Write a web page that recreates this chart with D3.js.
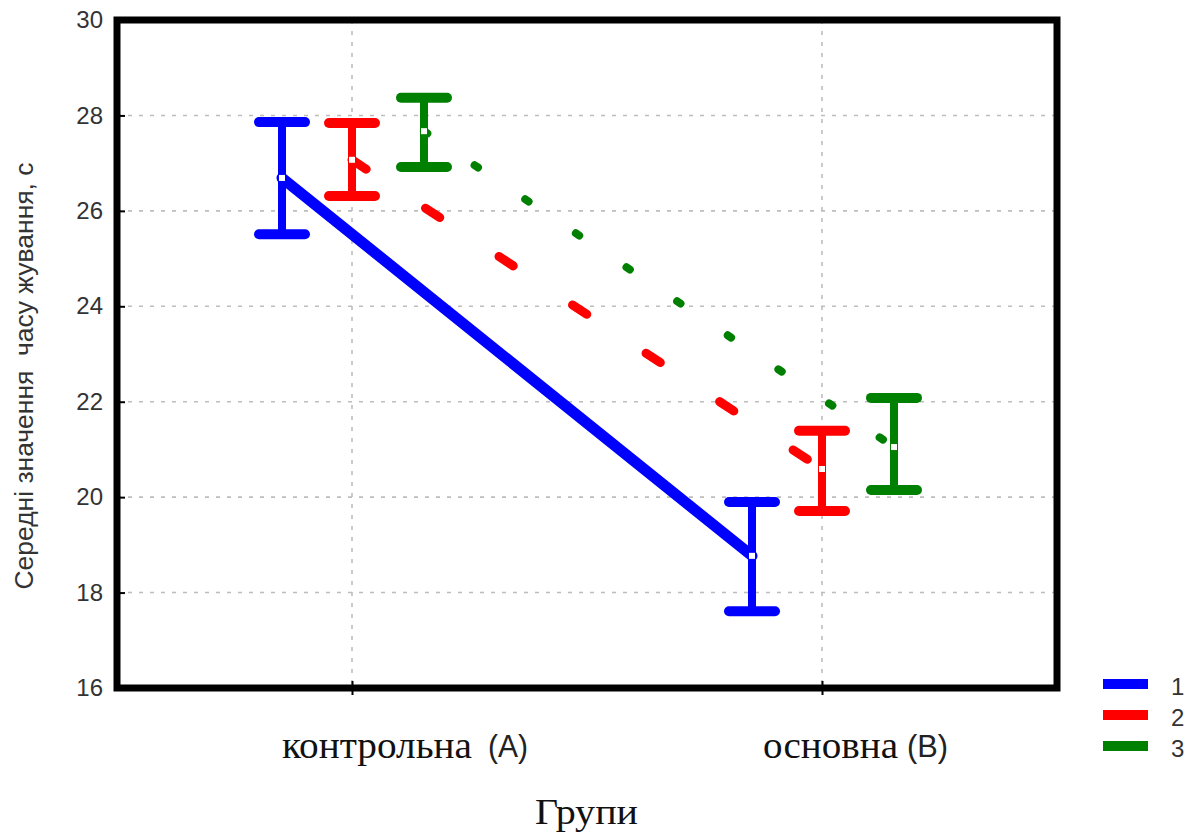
<!DOCTYPE html>
<html>
<head>
<meta charset="utf-8">
<script src="https://cdn.jsdelivr.net/npm/d3@7"></script>
<style>
  html, body { margin: 0; padding: 0; background: #fff; }
  svg { display: block; }
</style>
</head>
<body>
<svg id="chart" width="1193" height="832"></svg>
<script>
// Groups on the x axis
const groups = ["A", "B"];
const groupWords = ["контрольна", "основна"];
// Series names (legend)
const seriesNames = ["1", "2", "3"];
// Mean values per series, per group (A, B)
const means1 = [26.69, 18.77];
const means2 = [27.07, 20.59];
const means3 = [27.67, 21.05];
// Upper and lower error-bar limits per series
const upper1 = [27.86, 19.90];
const lower1 = [25.51, 17.61];
const upper2 = [27.84, 21.39];
const lower2 = [26.31, 19.71];
const upper3 = [28.37, 22.08];
const lower3 = [26.92, 20.15];
// Y axis ticks
const yTicks = [16, 18, 20, 22, 24, 26, 28, 30];

const series = [
  { name: seriesNames[0], mean: means1, up: upper1, lo: lower1, color: "#0000ff", offset: -70, dash: null, width: 11 },
  { name: seriesNames[1], mean: means2, up: upper2, lo: lower2, color: "#ff0000", offset: 0, dash: "17 71", width: 9 },
  { name: seriesNames[2], mean: means3, up: upper3, lo: lower3, color: "#008000", offset: 72, dash: "4 57", width: 8 }
];

const svg = d3.select("#chart");
const L = 117, R = 1057, T = 20, B = 688;
const SANS = "'Liberation Sans', Arial, sans-serif";
const SERIF = "'Liberation Serif', 'Times New Roman', serif";

const x = d3.scalePoint().domain(groups).range([L, R]).padding(0.5);
const y = d3.scaleLinear().domain([16, 30]).range([B, T]);

// Dotted grid
const grid = svg.append("g").attr("stroke", "#bdbdbd").attr("stroke-width", 1.6)
  .attr("stroke-dasharray", "4 7");
yTicks.filter(t => t > 16 && t < 30).forEach(t => {
  grid.append("line").attr("x1", L).attr("x2", R).attr("y1", y(t)).attr("y2", y(t));
});
groups.forEach(g => {
  grid.append("line").attr("x1", x(g)).attr("x2", x(g)).attr("y1", T).attr("y2", B);
});

// Connecting lines
const line = d3.line().x(d => d[0]).y(d => d[1]);
series.forEach(s => {
  const pts = groups.map((g, i) => [x(g) + s.offset, y(s.mean[i])]);
  svg.append("path").attr("d", line(pts))
    .attr("fill", "none").attr("stroke", s.color).attr("stroke-width", s.width)
    .attr("stroke-linecap", "round")
    .attr("stroke-dasharray", s.dash);
});

// Error bars
series.forEach(s => {
  const g = svg.append("g").attr("stroke", s.color).attr("stroke-linecap", "round");
  groups.forEach((grp, i) => {
    const cx = x(grp) + s.offset;
    g.append("line").attr("x1", cx).attr("x2", cx)
      .attr("y1", y(s.up[i])).attr("y2", y(s.lo[i])).attr("stroke-width", 8);
    [s.up[i], s.lo[i]].forEach(v => {
      g.append("line").attr("x1", cx - 23).attr("x2", cx + 23)
        .attr("y1", y(v)).attr("y2", y(v)).attr("stroke-width", 10);
    });
    // mean marker
    svg.append("rect").attr("x", cx - 3).attr("y", y(s.mean[i]) - 3)
      .attr("width", 6).attr("height", 6).attr("fill", "#fff");
  });
});

// Frame
svg.append("rect").attr("x", L).attr("y", T).attr("width", R - L).attr("height", B - T)
  .attr("fill", "none").attr("stroke", "#000").attr("stroke-width", 7);

// Y axis ticks and labels
const yAxis = svg.append("g").attr("transform", `translate(${L},0)`)
  .call(d3.axisLeft(y).tickValues(yTicks).tickSize(-8).tickPadding(14));
yAxis.select(".domain").remove();
yAxis.selectAll(".tick line").attr("stroke", "#000").attr("stroke-width", 2);
yAxis.selectAll(".tick text")
  .attr("font-family", SANS)
  .attr("font-size", 24).attr("fill", "#333");

// X axis ticks
const xAxis = svg.append("g").attr("transform", `translate(0,${B})`)
  .call(d3.axisBottom(x).tickSize(7).tickFormat(""));
xAxis.select(".domain").remove();
xAxis.selectAll(".tick line").attr("stroke", "#000").attr("stroke-width", 2)
  .attr("y1", -7);

// X tick labels: word (serif) + letter in parentheses (sans)
const wordX = [282, 763];
const wordW = [190, 135];
const letterX = [488, 907];
const letterW = [40, 41];
groups.forEach((g, i) => {
  svg.append("text").attr("x", wordX[i]).attr("y", 758)
    .attr("font-family", SERIF).attr("font-size", 37).attr("fill", "#111")
    .attr("textLength", wordW[i]).attr("lengthAdjust", "spacingAndGlyphs")
    .text(groupWords[i]);
  svg.append("text").attr("x", letterX[i]).attr("y", 757)
    .attr("font-family", SANS).attr("font-size", 31).attr("fill", "#222")
    .attr("textLength", letterW[i]).attr("lengthAdjust", "spacingAndGlyphs")
    .text("(" + g + ")");
});

// Axis titles
svg.append("text").attr("x", 535).attr("y", 824)
  .attr("font-family", SERIF).attr("font-size", 36).attr("fill", "#111")
  .attr("textLength", 103).attr("lengthAdjust", "spacingAndGlyphs")
  .text("Групи");

svg.append("text").attr("transform", "translate(33,376) rotate(-90)")
  .attr("text-anchor", "middle")
  .attr("font-family", SANS)
  .attr("font-size", 25).attr("fill", "#333")
  .attr("textLength", 427).attr("lengthAdjust", "spacingAndGlyphs")
  .attr("xml:space", "preserve")
  .text("Середні значення  часу жування, с");

// Legend
const legendY = [684, 715, 746];
series.forEach((s, i) => {
  svg.append("line").attr("x1", 1103).attr("x2", 1148)
    .attr("y1", legendY[i]).attr("y2", legendY[i])
    .attr("stroke", s.color).attr("stroke-width", 10);
  svg.append("text").attr("x", 1171).attr("y", legendY[i] + 11)
    .attr("font-family", SANS)
    .attr("font-size", 24).attr("fill", "#333").text(s.name);
});
</script>
</body>
</html>
